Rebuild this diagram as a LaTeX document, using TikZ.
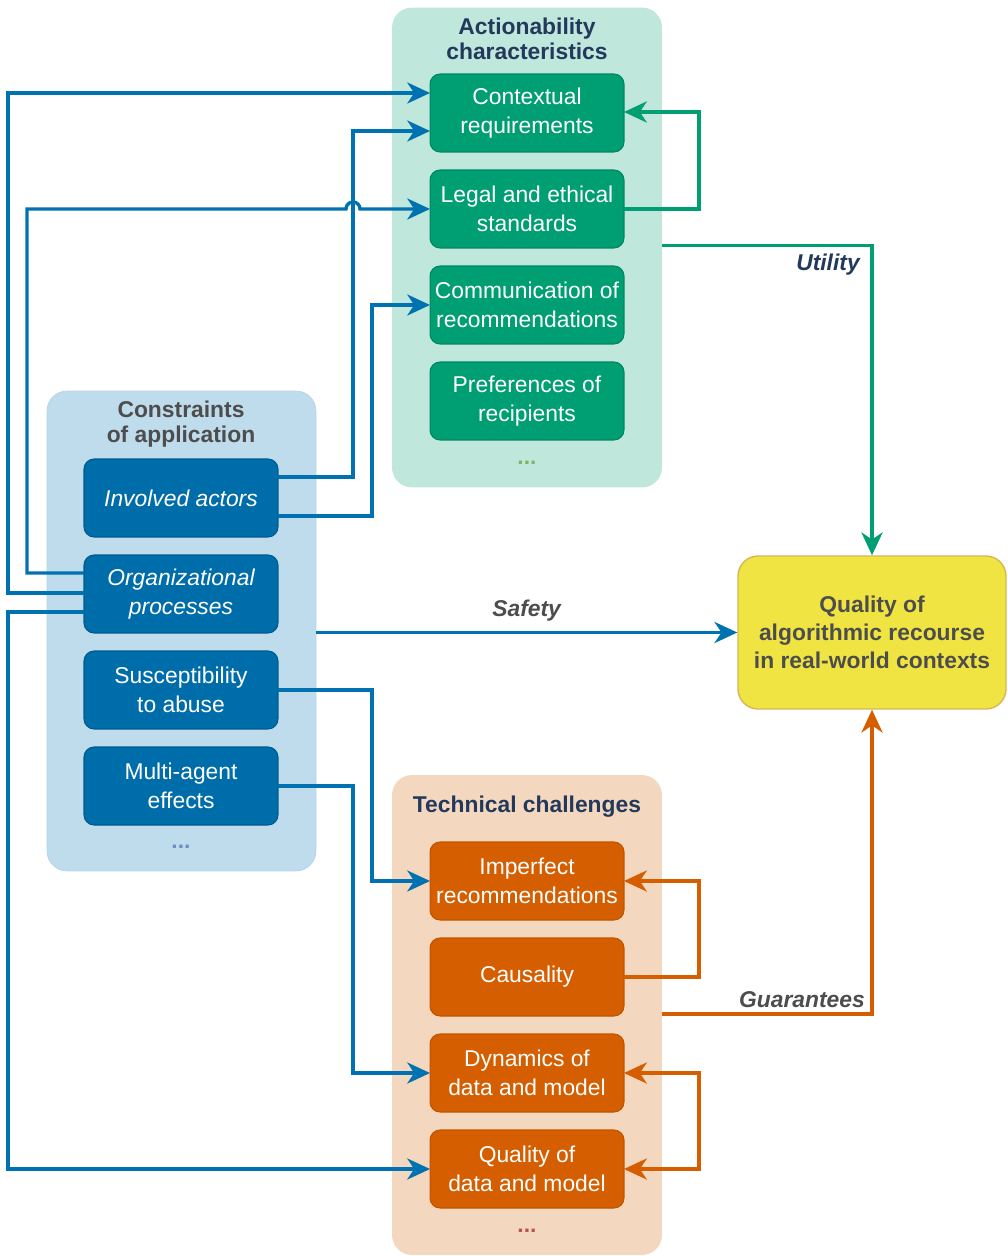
\documentclass[tikz,border=0pt]{standalone}
\usepackage{fontspec}
\setmainfont{Liberation Sans}
\usepackage{tikz}
\usetikzlibrary{arrows.meta,calc,positioning}
\definecolor{okblue}{HTML}{0072B2}
\definecolor{okgreen}{HTML}{009E73}
\definecolor{okorange}{HTML}{D55E00}
\definecolor{okyellow}{HTML}{F0E442}
\definecolor{okgold}{HTML}{D6B656}
\definecolor{headnavy}{HTML}{23395B}
\definecolor{headgray}{HTML}{4D4D4D}
\definecolor{dotgreen}{HTML}{82B366}
\definecolor{dotblue}{HTML}{6C8EBF}
\definecolor{dotred}{HTML}{B85450}
\tikzset{
       arr/.style = {-{Stealth[length=13pt, width=12pt, inset=4pt]}, line width=1.9pt},
     group/.style = {rounded corners=0.4cm, minimum width=5.4cm, minimum height=9.6cm,
                     inner sep=0pt, outer sep=0pt},
       box/.style = {rounded corners=0.2cm, minimum width=3.88cm, minimum height=1.56cm,
                     inner sep=0pt, outer sep=0pt, text=white, align=center,
                     font=\fontsize{13}{16.5}\selectfont, line width=0.6pt},
     gbox/.style = {box, fill=okgreen, draw=okgreen!85!black},
     bbox/.style = {box, fill=okblue!96!black, draw=okblue!80!black},
     obox/.style = {box, fill=okorange, draw=okorange!90!black},
     title/.style = {align=center, font=\fontsize{13}{14}\selectfont\bfseries},
      dots/.style = {font=\fontsize{13}{14}\selectfont\bfseries},
     elabel/.style = {font=\fontsize{13}{14}\selectfont\bfseries\itshape},
}
\begin{document}
\begin{tikzpicture}[x=0.02cm, y=-0.02cm]
\useasboundingbox (0,0) rectangle (1007,1256);
% groups
\node[group, fill=okgreen!25] (grpgreen) at (527,247.5) {};
\node[group, fill=okblue!25, draw=okblue!30, minimum width=5.38cm] (grpblue) at (181.5,631) {};
\node[group, fill=okorange!25] (grporange) at (527,1015) {};
\node[title, text=headnavy] (titgreen) at (527,39) {Actionability\\characteristics};
\node[title, text=headgray] (titblue) at (181,424) {Constraints\\of application};
\node[title, text=headnavy] (titorange) at (527,807) {Technical challenges};
\node[dots, text=dotgreen] (dgreen) at (527,463) {...};
\node[dots, text=dotblue] (dblue) at (181,847) {...};
\node[dots, text=dotred] (dorange) at (527,1231) {...};
% actionability
\node[gbox] (ctx)   at (527,113) {Contextual\\requirements};
\node[gbox] (legal) at (527,209) {Legal and ethical\\standards};
\node[gbox] (comm)  at (527,305) {Communication of\\recommendations};
\node[gbox] (pref)  at (527,401) {Preferences of\\recipients};
% constraints
\node[bbox, font=\fontsize{13}{16.5}\selectfont\itshape] (actors) at (181,498) {Involved actors};
\node[bbox, font=\fontsize{13}{16.5}\selectfont\itshape] (org)    at (181,594) {Organizational\\processes};
\node[bbox] (abuse) at (181,690) {Susceptibility\\to abuse};
\node[bbox] (multi) at (181,786) {Multi-agent\\effects};
% technical
\node[obox] (imp)  at (527,881)  {Imperfect\\recommendations};
\node[obox] (caus) at (527,977)  {Causality};
\node[obox] (dyn)  at (527,1073) {Dynamics of\\data and model};
\node[obox] (qdm)  at (527,1169) {Quality of\\data and model};
% target
\node[rounded corners=0.4cm, minimum width=5.36cm, minimum height=3.06cm, fill=okyellow,
      draw=okgold, line width=0.8pt, align=center, text=headgray,
      font=\fontsize{13}{16}\selectfont\bfseries] (rec) at (872,632.5)
      {Quality of\\algorithmic recourse\\in real-world contexts};
% blue connectors
\draw[arr, okblue] ($(org.west)+(0,-21)$) -- (27,573) |- (346,209)
      arc[start angle=180, end angle=0, radius=0.14cm] -- (legal.west);
\draw[arr, okblue] ($(org.west)+(0,-1)$) -- (8,593) |- ($(ctx.west)+(0,-20)$);
\draw[arr, okblue] ($(org.west)+(0,18)$) -- (8,612) |- (qdm.west);
\draw[arr, okblue] ($(actors.east)+(0,-21)$) -- (353,477) |- ($(ctx.west)+(0,18)$);
\draw[arr, okblue] ($(actors.east)+(0,18)$) -- (372,516) |- (comm.west);
\draw[arr, okblue] (abuse.east) -- (372,690) |- (imp.west);
\draw[arr, okblue] (multi.east) -- (353,786) |- (dyn.west);
\draw[arr, okblue] (grpblue.east |- rec.west) -- (rec.west)
      node[elabel, text=headgray, pos=0.5, above=2pt] (lsafety) {Safety};
% green connectors
\draw[arr, okgreen] (legal.east) -- (699,209) |- ($(ctx.east)+(0,-1)$);
\draw[arr, okgreen] ($(grpgreen.east)+(0,-2)$) -| (rec.north);
\node[elabel, text=headnavy] (lutility) at (828,265) {Utility};
% orange connectors
\draw[arr, okorange] (caus.east) -- (699,977) |- (imp.east);
\draw[arr, okorange, {Stealth[length=13pt, width=12pt, inset=4pt]}-{Stealth[length=13pt, width=12pt, inset=4pt]}]
      (dyn.east) -- (699,1073) |- (qdm.east);
\draw[arr, okorange] ($(grporange.east)+(0,-1)$) -| (rec.south);
\node[elabel, text=headgray] (lguarantees) at (802,1000) {Guarantees};
\end{tikzpicture}
\end{document}
